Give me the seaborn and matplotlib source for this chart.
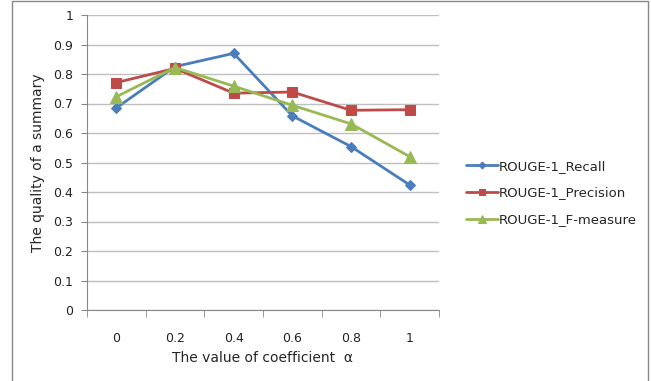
import matplotlib
matplotlib.use("Agg")
import matplotlib.pyplot as plt
import seaborn as sns
import pandas as pd
from matplotlib.patches import Rectangle

alpha_labels = ["0", "0.2", "0.4", "0.6", "0.8", "1"]
recall = [0.685, 0.825, 0.870, 0.658, 0.554, 0.424]
precision = [0.771, 0.819, 0.735, 0.739, 0.677, 0.679]
fmeasure = [0.723, 0.822, 0.759, 0.694, 0.631, 0.520]
series_names = ["ROUGE-1_Recall", "ROUGE-1_Precision", "ROUGE-1_F-measure"]
y_ticks = [0, 0.1, 0.2, 0.3, 0.4, 0.5, 0.6, 0.7, 0.8, 0.9, 1]

rows = []
for name, vals in zip(series_names, [recall, precision, fmeasure]):
    for i, (lab, v) in enumerate(zip(alpha_labels, vals)):
        rows.append({"pos": i, "alpha": lab, "value": v, "series": name})
df = pd.DataFrame(rows)

sns.set_style("white")
plt.rcParams["font.family"] = ["DejaVu Sans"]

fig = plt.figure(figsize=(6.51, 3.81), dpi=100)
ax = fig.add_axes([87/651, 1-310/381, (439-87)/651, (310-15)/381])

palette = {"ROUGE-1_Recall": "#4A7EBB", "ROUGE-1_Precision": "#BE4B48", "ROUGE-1_F-measure": "#98B954"}
markers = {"ROUGE-1_Recall": "D", "ROUGE-1_Precision": "s", "ROUGE-1_F-measure": "^"}
sizes_m = {"ROUGE-1_Recall": 5, "ROUGE-1_Precision": 7, "ROUGE-1_F-measure": 8}

for name in series_names:
    sub = df[df["series"] == name]
    sns.lineplot(data=sub, x="pos", y="value", ax=ax, color=palette[name],
                 marker=markers[name], markersize=sizes_m[name], markeredgecolor=palette[name],
                 linewidth=2, label=name)

ax.set_xlim(-0.5, len(alpha_labels) - 0.5)
ax.set_ylim(0, 1)
ax.set_yticks(y_ticks)
ax.set_yticklabels([f"{t:g}" for t in y_ticks], fontsize=9, color="#222222")
ax.set_xticks(range(len(alpha_labels)))
ax.set_xticklabels(alpha_labels, fontsize=9, color="#222222")
ax.tick_params(axis="x", length=0, pad=16)
ax.tick_params(axis="y", length=4, direction="out", color="#888888", left=True, pad=6)
ax.set_xticks([i - 0.5 for i in range(len(alpha_labels) + 1)], minor=True)
ax.tick_params(axis="x", which="minor", length=5, direction="out", color="#888888", bottom=True)

ax.yaxis.grid(True, color="#BFBFBF", linewidth=1)
ax.xaxis.grid(False)
ax.set_axisbelow(True)
for s in ["top", "right"]:
    ax.spines[s].set_visible(False)
ax.spines["left"].set_color("#888888")
ax.spines["bottom"].set_color("#888888")

ax.set_xlabel("The value of coefficient  \u03b1", fontsize=10, labelpad=4)
ax.set_ylabel("The quality of a summary", fontsize=10, labelpad=6)

leg = ax.legend(loc="center left", bbox_to_anchor=(454/651, 1-193/381), bbox_transform=fig.transFigure,
                frameon=False, fontsize=9.5, handlelength=2.4, handletextpad=0.1, labelspacing=1.05,
                markerscale=0.7)

fig.patches.append(Rectangle((12/651, -0.05), (648-12)/651, 1.05 - 1/381, transform=fig.transFigure,
                             fill=False, edgecolor="#888888", linewidth=1))

fig.savefig("out.png", dpi=100)
